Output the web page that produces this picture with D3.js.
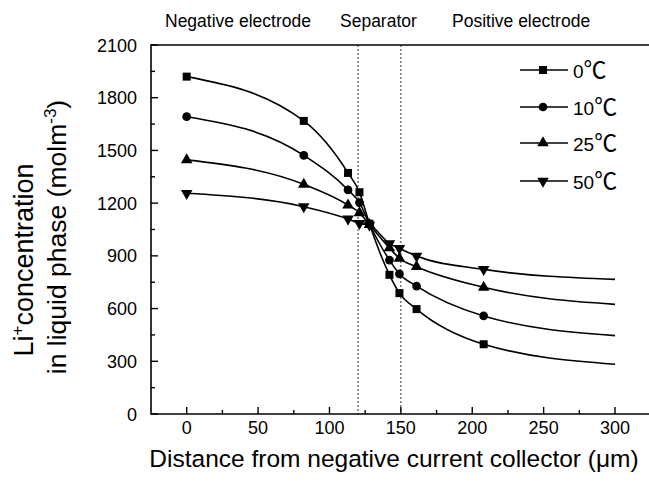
<!DOCTYPE html>
<html>
<head>
<meta charset="utf-8">
<script src="https://cdn.jsdelivr.net/npm/d3@7"></script>
<style>
  html, body { margin: 0; padding: 0; background: #fff; }
  svg { display: block; }
  text { font-family: Arial, "Liberation Sans", Helvetica, sans-serif; fill: #000; }
</style>
</head>
<body>
<svg id="chart" width="649" height="482"></svg>
<script>
// ---- data ----
const xPositions = [0, 82, 113, 121, 128, 142, 149, 161, 208, 300];
const markerCount = 9; // last point (300) is drawn as line end only
const seriesTemps = ["0", "10", "25", "50"];
const tempUnit = "℃";
const values0  = [1920, 1668, 1372, 1262, 1083, 792, 688, 597, 397, 283];
const values10 = [1692, 1472, 1275, 1203, 1080, 876, 797, 728, 558, 446];
const values25 = [1446, 1307, 1189, 1145, 1078, 945, 886, 838, 721, 624];
const values50 = [1256, 1180, 1110, 1085, 1075, 970, 943, 899, 823, 766];
const seriesValues = [values0, values10, values25, values50];
const xTicks = [0, 50, 100, 150, 200, 250, 300];
const xMinorTicks = [25, 75, 125, 175, 225, 275];
const yTicks = [0, 300, 600, 900, 1200, 1500, 1800, 2100];
const yMinorTicks = [150, 450, 750, 1050, 1350, 1650, 1950];
const separatorBounds = [120, 150];
const regionLabels = ["Negative electrode", "Separator", "Positive electrode"];

// ---- layout ----
const svg = d3.select("#chart");
const pL = 151, pT = 45, pB = 414, pR = 655;
const x = d3.scaleLinear().domain([-25, 328]).range([pL, pR]);
const y = d3.scaleLinear().domain([0, 2100]).range([pB, pT]);

const symbols = [
  d3.symbol().type(d3.symbolSquare).size(64),
  d3.symbol().type(d3.symbolCircle).size(60),
  d3.symbol().type(d3.symbolTriangle).size(58),
  d3.symbol().type(d3.symbolTriangle).size(58)
];
const rotations = [0, 0, 0, 180];

// separator dashed lines
svg.selectAll("line.sep").data(separatorBounds).enter().append("line")
  .attr("x1", d => x(d)).attr("x2", d => x(d))
  .attr("y1", pT).attr("y2", pB)
  .attr("stroke", "#333").attr("stroke-width", 1)
  .attr("stroke-dasharray", "2,2");

// lines
const line = d3.line()
  .x((d, i) => x(xPositions[i]))
  .y(d => y(d))
  .curve(d3.curveMonotoneX);

seriesValues.forEach((vals, s) => {
  svg.append("path").datum(vals)
    .attr("d", line)
    .attr("fill", "none").attr("stroke", "#000").attr("stroke-width", 1.6);
  svg.selectAll("path.m" + s).data(vals.slice(0, markerCount)).enter().append("path")
    .attr("class", "m" + s)
    .attr("d", symbols[s])
    .attr("transform", (d, i) => `translate(${x(xPositions[i])},${y(d)}) rotate(${rotations[s]})`)
    .attr("fill", "#000");
});

// axes frame
const axisW = 1.6;
svg.append("line").attr("x1", pL).attr("x2", 649).attr("y1", pT).attr("y2", pT)
  .attr("stroke", "#000").attr("stroke-width", axisW);
svg.append("line").attr("x1", pL).attr("x2", 649).attr("y1", pB).attr("y2", pB)
  .attr("stroke", "#000").attr("stroke-width", axisW);
svg.append("line").attr("x1", pL).attr("x2", pL).attr("y1", pT - 0.8).attr("y2", pB + 0.8)
  .attr("stroke", "#000").attr("stroke-width", axisW);

// x ticks (inward)
svg.selectAll("line.xt").data(xTicks).enter().append("line")
  .attr("x1", d => x(d)).attr("x2", d => x(d))
  .attr("y1", pB).attr("y2", pB - 7)
  .attr("stroke", "#000").attr("stroke-width", 1.4);
svg.selectAll("line.xmt").data(xMinorTicks).enter().append("line")
  .attr("x1", d => x(d)).attr("x2", d => x(d))
  .attr("y1", pB).attr("y2", pB - 4)
  .attr("stroke", "#000").attr("stroke-width", 1.4);
svg.selectAll("text.xl").data(xTicks).enter().append("text")
  .attr("x", d => x(d)).attr("y", 434)
  .attr("text-anchor", "middle").attr("font-size", 18)
  .text(d => d);

// y ticks (inward)
svg.selectAll("line.yt").data(yTicks).enter().append("line")
  .attr("x1", pL).attr("x2", pL + 7)
  .attr("y1", d => y(d)).attr("y2", d => y(d))
  .attr("stroke", "#000").attr("stroke-width", 1.4);
svg.selectAll("line.ymt").data(yMinorTicks).enter().append("line")
  .attr("x1", pL).attr("x2", pL + 4)
  .attr("y1", d => y(d)).attr("y2", d => y(d))
  .attr("stroke", "#000").attr("stroke-width", 1.4);
svg.selectAll("text.yl").data(yTicks).enter().append("text")
  .attr("x", 137).attr("y", d => y(d) + 6.5)
  .attr("text-anchor", "end").attr("font-size", 18)
  .text(d => d);

// region labels
const regionX = [165, 340, 452];
svg.selectAll("text.reg").data(regionLabels).enter().append("text")
  .attr("x", (d, i) => regionX[i]).attr("y", 27)
  .attr("font-size", 17.5)
  .text(d => d);

// x title
svg.append("text").attr("x", 394).attr("y", 467)
  .attr("text-anchor", "middle").attr("font-size", 24.5)
  .text("Distance from negative current collector (μm)");

// y title
const yt1 = svg.append("text")
  .attr("transform", "translate(33,260) rotate(-90)")
  .attr("text-anchor", "middle").attr("font-size", 27);
yt1.append("tspan").text("Li");
yt1.append("tspan").attr("font-size", 17).attr("dy", -10).text("+");
yt1.append("tspan").attr("dy", 10).text("concentration");

const yt2 = svg.append("text")
  .attr("transform", "translate(66,237) rotate(-90)")
  .attr("text-anchor", "middle").attr("font-size", 26.5);
yt2.append("tspan").text("in liquid phase (molm");
yt2.append("tspan").attr("font-size", 17).attr("dy", -10).text("-3");
yt2.append("tspan").attr("dy", 10).text(")");

// legend
const legY = [70, 107, 143, 181];
seriesTemps.forEach((name, s) => {
  const g = svg.append("g").attr("transform", `translate(0,${legY[s]})`);
  g.append("line").attr("x1", 520).attr("x2", 568).attr("y1", 0).attr("y2", 0)
    .attr("stroke", "#000").attr("stroke-width", 1.6);
  g.append("path").attr("d", symbols[s])
    .attr("transform", `translate(543,0) rotate(${rotations[s]})`)
    .attr("fill", "#000");
  const t = g.append("text").attr("x", 573).attr("y", 7.5).attr("font-size", 19);
  t.append("tspan").text(name);
  t.append("tspan")
    .style("font-family", "'Noto Sans CJK SC', 'Noto Sans CJK JP', sans-serif")
    .attr("font-size", 23).attr("dy", 0.5)
    .text(tempUnit);
});
</script>
</body>
</html>
